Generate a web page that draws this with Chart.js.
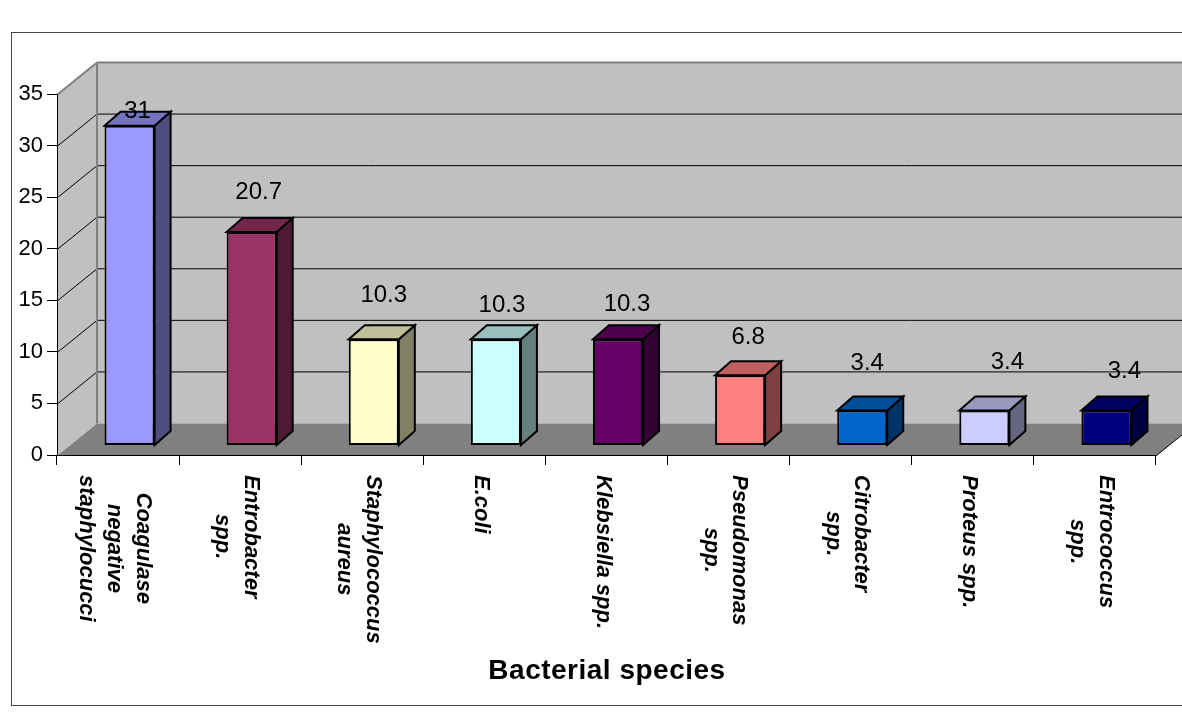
<!DOCTYPE html>
<html>
<head>
<meta charset="utf-8">
<title>Bacterial species</title>
<style>
html,body{margin:0;padding:0;background:#fff;overflow:hidden}
canvas{display:block}
</style>
<script src="https://cdn.jsdelivr.net/npm/chart.js@4/dist/chart.umd.min.js"></script>
</head>
<body>
<canvas id="chart" width="1182" height="727"></canvas>
<script>
// data
const categories=[['Coagulase','negative','staphylocucci'],['Entrobacter','spp.'],['Staphylococcus','aureus'],['E.coli'],['Klebsiella spp.'],['Pseudomonas','spp.'],['Citrobacter','spp.'],['Proteus spp.'],['Entrococcus','spp.']];
const values=[31,20.7,10.3,10.3,10.3,6.8,3.4,3.4,3.4];
const yTicks=[0,5,10,15,20,25,30,35];
const axisTitle='Bacterial species';
const barColors=['#9999FF','#993366','#FFFFCC','#CCFFFF','#660066','#FF8080','#0066CC','#CCCCFF','#000080'];
// the data labels in the original sit at uneven spots above the bars
const labelDx=[8,7,10,6,9,8,5,23,18];
const labelDy=[-14,-40,-44,-34,-35,-38,-47,-48,-39];

// 3D depth, in px
const WALL_DX=39.5,WALL_DY=32;
const BAR_DX=11.5,BAR_DY=9.5;
const SIDE_DX=16,SIDE_DY=14;
const FONT='"Liberation Sans",Arial,sans-serif';

const shade=(hex,f)=>{
  const n=parseInt(hex.slice(1),16);
  return `rgb(${Math.round((n>>16)*f)},${Math.round(((n>>8)&255)*f)},${Math.round((n&255)*f)})`;
};
const poly=(ctx,pts,fill,stroke,lw)=>{
  ctx.beginPath();
  pts.forEach((p,i)=>i?ctx.lineTo(p[0],p[1]):ctx.moveTo(p[0],p[1]));
  ctx.closePath();
  if(fill){ctx.fillStyle=fill;ctx.fill();}
  if(stroke){ctx.strokeStyle=stroke;ctx.lineWidth=lw;ctx.stroke();}
};
const line=(ctx,x1,y1,x2,y2,color,lw)=>{
  ctx.beginPath();ctx.moveTo(x1,y1);ctx.lineTo(x2,y2);
  ctx.strokeStyle=color;ctx.lineWidth=lw;ctx.stroke();
};

const walls3d={
  id:'walls3d',
  beforeDraw(chart){
    const {ctx,scales:{x,y}}=chart;
    const l=x.left+0.5,r=x.right+0.5,t=y.getPixelForValue(35)+0.5,b=y.getPixelForValue(0)+0.5;
    ctx.save();
    ctx.fillStyle='#fff';ctx.fillRect(0,0,chart.width,chart.height);
    ctx.strokeStyle='#444';ctx.lineWidth=1;ctx.strokeRect(11.5,32.5,1300,673);
    // back wall, side wall, floor
    poly(ctx,[[l+WALL_DX,t-WALL_DY],[r+WALL_DX,t-WALL_DY],[r+WALL_DX,b-WALL_DY],[l+WALL_DX,b-WALL_DY]],'#C0C0C0');
    poly(ctx,[[l,t],[l+WALL_DX,t-WALL_DY],[l+WALL_DX,b-WALL_DY],[l,b]],'#C0C0C0');
    poly(ctx,[[l,b],[r,b],[r+WALL_DX,b-WALL_DY],[l+WALL_DX,b-WALL_DY]],'#808080');
    // gridlines run across both walls
    yTicks.forEach(v=>{
      if(v===0||v===35)return;
      const py=y.getPixelForValue(v)+0.5;
      line(ctx,l,py,l+WALL_DX,py-WALL_DY,'#000',1);
      line(ctx,l+WALL_DX,py-WALL_DY,r+WALL_DX,py-WALL_DY,'#000',1);
    });
    // grey wall edges
    line(ctx,l,t,l+WALL_DX,t-WALL_DY,'#808080',2);
    line(ctx,l+WALL_DX,t-WALL_DY,r+WALL_DX,t-WALL_DY,'#808080',2);
    line(ctx,l+WALL_DX,t-WALL_DY,l+WALL_DX,b-WALL_DY,'#808080',2);
    line(ctx,r,b,r+WALL_DX,b-WALL_DY,'#000',1);
    ctx.restore();
  },
  beforeDatasetDraw(chart,args){
    const ctx=chart.ctx;
    ctx.save();
    ctx.translate(BAR_DX,-BAR_DY);
    args.meta.data.forEach((bar,i)=>{
      const p=bar.getProps(['x','y','base','width'],true);
      const l=p.x-p.width/2,r=p.x+p.width/2;
      poly(ctx,[[r,p.y],[r+SIDE_DX,p.y-SIDE_DY],[r+SIDE_DX,p.base-SIDE_DY],[r,p.base]],shade(barColors[i],0.5),'#000',2);
      poly(ctx,[[l,p.y],[l+SIDE_DX,p.y-SIDE_DY],[r+SIDE_DX,p.y-SIDE_DY],[r,p.y]],shade(barColors[i],0.75),'#000',2);
    });
  },
  afterDatasetDraw(chart){
    chart.ctx.restore();
  },
  afterDraw(chart){
    const {ctx,scales:{x}}=chart;
    const meta=chart.getDatasetMeta(0);
    ctx.save();
    ctx.fillStyle='#000';
    // value labels
    ctx.font='24px '+FONT;
    ctx.textAlign='center';ctx.textBaseline='middle';
    meta.data.forEach((bar,i)=>{
      ctx.fillText(String(values[i]),bar.x+BAR_DX+labelDx[i],bar.y-BAR_DY+labelDy[i]);
    });
    // category labels read top to bottom, first line on the right
    ctx.font='italic bold 22px '+FONT;
    categories.forEach((lines,i)=>{
      const widest=Math.max(...lines.map(s=>ctx.measureText(s).width));
      const cx=x.getPixelForValue(i)-3.5;
      lines.forEach((s,k)=>{
        ctx.save();
        ctx.translate(cx+((lines.length-1)/2-k)*28.5,475+widest/2);
        ctx.rotate(Math.PI/2);
        ctx.fillText(s,0,0);
        ctx.restore();
      });
    });
    ctx.font='bold 28px '+FONT;
    ctx.letterSpacing='0.5px';
    ctx.fillText(axisTitle,607,671);
    ctx.restore();
  }
};

new Chart(document.getElementById('chart'),{
  type:'bar',
  plugins:[walls3d],
  data:{labels:categories,datasets:[{
    data:values,
    backgroundColor:barColors,
    borderColor:'#000',
    borderWidth:2,
    borderSkipped:false,
    barPercentage:1,
    categoryPercentage:0.41,
    clip:false
  }]},
  options:{
    responsive:false,
    animation:false,
    layout:{padding:{top:94,right:26,bottom:0,left:0}},
    plugins:{legend:{display:false},tooltip:{enabled:false},title:{display:false}},
    scales:{
      x:{
        afterFit:s=>{s.height=272;},
        ticks:{display:false},
        grid:{drawOnChartArea:false,drawTicks:true,tickLength:10,color:'#000',offset:true},
        border:{color:'#000'}
      },
      y:{
        min:0,max:35,
        afterFit:s=>{s.width=57;},
        afterBuildTicks:s=>{s.ticks=yTicks.map(v=>({value:v}));},
        ticks:{color:'#000',font:{family:FONT,size:22},padding:4},
        grid:{drawOnChartArea:false,drawTicks:true,tickLength:10,color:'#000'},
        border:{color:'#000'}
      }
    }
  }
});
</script>
</body>
</html>
